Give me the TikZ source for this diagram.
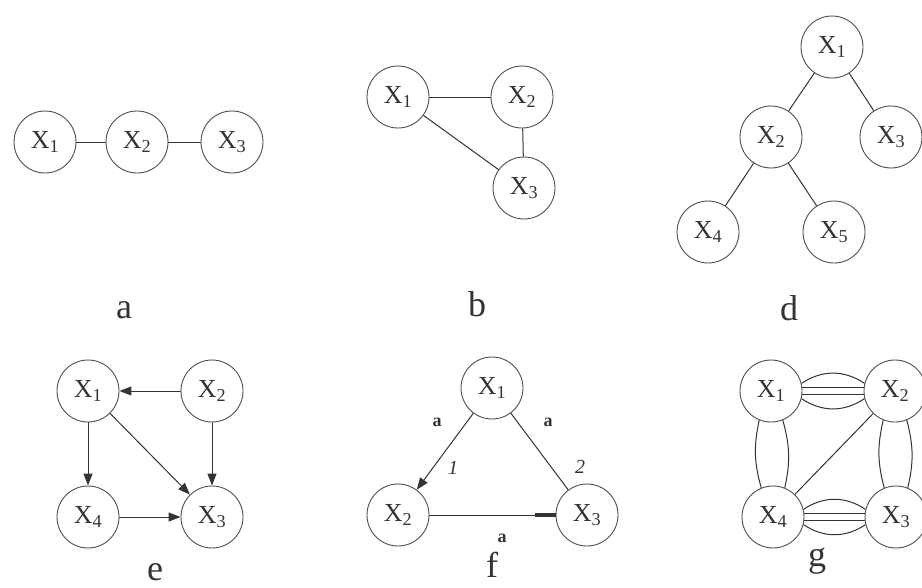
\documentclass[tikz,border=0pt]{standalone}
\usepackage{fontspec}
\setmainfont{Liberation Serif}
\usetikzlibrary{arrows.meta}
\definecolor{Ink}{HTML}{333333}
\definecolor{Rim}{HTML}{4D4D4D}
\tikzset{
  vert/.style={circle,draw=Rim,line width=0.9pt,minimum size=62pt,inner sep=0pt,text=Ink,font=\fontsize{26}{28}\selectfont},
  link/.style={draw=Ink,line width=1pt},
  arrowed/.style={link,-{Triangle[length=12pt,width=9pt]}},
  figlab/.style={anchor=base,text=Ink,font=\fontsize{36}{40}\selectfont},
  elab/.style={text=Ink,font=\fontsize{18}{20}\selectfont\bfseries},
  endnum/.style={text=Ink,font=\fontsize{20}{22}\selectfont\itshape}
}
\newcommand{\X}[1]{X\textsubscript{#1}}

\begin{document}
\begin{tikzpicture}[x=1pt,y=-1pt]
  \useasboundingbox (0,0) rectangle (922,587);
  % a
  \node[vert] (a1) at (45,142) {\X1};
  \node[vert] (a2) at (137,142) {\X2};
  \node[vert] (a3) at (232,142) {\X3};
  \draw[link] (a1) -- (a2);
  \draw[link] (a2) -- (a3);
  \node[figlab] (la) at (124,318) {a};
  % b
  \node[vert] (b1) at (398,97) {\X1};
  \node[vert] (b2) at (522,97) {\X2};
  \node[vert] (b3) at (524,188) {\X3};
  \draw[link] (b1) -- (b2);
  \draw[link] (b2) -- (b3);
  \draw[link] (b1) -- (b3);
  \node[figlab] (lb) at (477,316) {b};
  % d
  \node[vert] (d1) at (832,47) {\X1};
  \node[vert] (d2) at (771,137) {\X2};
  \node[vert] (d3) at (891,137) {\X3};
  \node[vert] (d4) at (708,232) {\X4};
  \node[vert] (d5) at (834,232) {\X5};
  \foreach \p/\q in {d1/d2,d1/d3,d2/d4,d2/d5}{\draw[link] (\p) -- (\q);}
  \node[figlab] (ld) at (789,320) {d};
  % e
  \node[vert] (e1) at (88,391) {\X1};
  \node[vert] (e2) at (212,391) {\X2};
  \node[vert] (e3) at (212,517) {\X3};
  \node[vert] (e4) at (88,517) {\X4};
  \foreach \p/\q in {e2/e1,e1/e4,e2/e3,e1/e3,e4/e3}{\draw[arrowed] (\p) -- (\q);}
  \node[figlab] (le) at (155,580) {e};
  % f
  \node[vert] (f1) at (492,388) {\X1};
  \node[vert] (f2) at (398,515) {\X2};
  \node[vert] (f3) at (587,515) {\X3};
  \draw[arrowed] (f1) -- (f2);
  \draw[link] (f1) -- (f3);
  \draw[link] (f2) -- coordinate[pos=0.84] (fbar) (f3);
  \draw[Ink,line width=3.5pt] (fbar) -- (f3);
  \node[elab] (fa1) at (437,422) {a};
  \node[elab] (fa2) at (548,422) {a};
  \node[elab] (fa3) at (502,538) {a};
  \node[endnum] (fn1) at (453,468) {1};
  \node[endnum] (fn2) at (580,467) {2};
  \node[figlab] (lf) at (492,577) {f};
  % g
  \node[vert] (g1) at (771,391) {\X1};
  \node[vert] (g2) at (895,391) {\X2};
  \node[vert] (g3) at (896,517) {\X3};
  \node[vert] (g4) at (773,517) {\X4};
  \draw[link] (g1.14) to[bend left=34] (g2.166);
  \draw[link] (g1.-14) to[bend right=34] (g2.-166);
  \draw[link] (g1.6) -- (g2.174);
  \draw[link] (g1.-6) -- (g2.-174);
  \draw[link] (g4.14) to[bend left=34] (g3.166);
  \draw[link] (g4.-14) to[bend right=34] (g3.-166);
  \draw[link] (g4.6) -- (g3.174);
  \draw[link] (g4.-6) -- (g3.-174);
  \draw[link] (g1.-68) to[bend left=14] (g4.68);
  \draw[link] (g1.-112) to[bend right=14] (g4.112);
  \draw[link] (g2.-68) to[bend left=14] (g3.68);
  \draw[link] (g2.-112) to[bend right=14] (g3.112);
  \draw[link] (g2) -- (g4);
  \node[figlab] (lg) at (817,566) {g};
\end{tikzpicture}
\end{document}
